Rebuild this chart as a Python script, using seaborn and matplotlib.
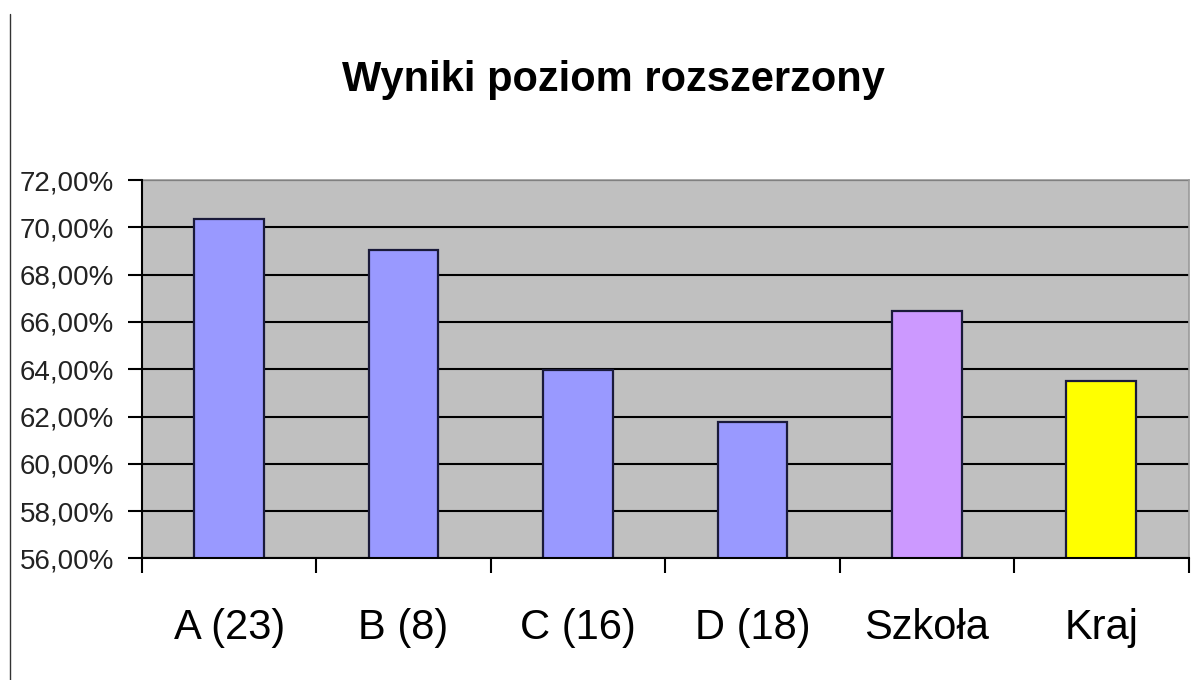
import matplotlib
matplotlib.use("Agg")
import matplotlib.pyplot as plt
import seaborn as sns
import pandas as pd
from matplotlib.lines import Line2D
from matplotlib.ticker import FuncFormatter, FixedLocator

# Data
categories = ["A (23)", "B (8)", "C (16)", "D (18)", "Szkoła", "Kraj"]
values = [70.35, 69.05, 63.95, 61.75, 66.48, 63.5]
bar_colors = ["#9999ff", "#9999ff", "#9999ff", "#9999ff", "#cc99ff", "#ffff00"]
y_ticks = [56, 58, 60, 62, 64, 66, 68, 70, 72]

df = pd.DataFrame({"kategoria": categories, "wynik": values})

sns.set_style("white", {"ytick.left": True, "xtick.bottom": True})
plt.rcParams["font.family"] = ["Liberation Sans", "DejaVu Sans"]
plt.rcParams["text.color"] = "black"

fig = plt.figure(figsize=(12.03, 6.8), dpi=100)
ax = fig.add_axes([0.118, 0.179, 0.870, 0.556])
ax.set_facecolor("#c0c0c0")

sns.barplot(data=df, x="kategoria", y="wynik", hue="kategoria",
            palette=bar_colors, saturation=1, legend=False, width=0.4,
            edgecolor="#1a1a3a", linewidth=1.6, ax=ax)
# bars on top of the gridlines
for p in ax.patches:
    p.set_zorder(3)

ax.set_ylim(y_ticks[0], y_ticks[-1])
ax.set_xlim(-0.5, len(categories) - 0.5)
ax.set_yticks(y_ticks)
ax.yaxis.set_major_formatter(FuncFormatter(lambda v, p: f"{v:.2f}%".replace(".", ",")))
ax.yaxis.grid(True, color="black", linewidth=1.5)

# category boundaries get tick marks, labels sit in the middle
ax.xaxis.set_minor_locator(FixedLocator([i - 0.5 for i in range(len(categories) + 1)]))
ax.tick_params(axis="x", which="major", bottom=True, length=0, pad=36,
               labelsize=30, labelcolor="black")
ax.tick_params(axis="x", which="minor", bottom=True, length=11, width=1.5,
               color="black", direction="out")
ax.tick_params(axis="y", which="major", left=True, length=0, pad=20,
               labelsize=20, labelcolor="#222222")

# short marks left of the y axis at each tick value
ax.hlines(y_ticks, -0.013, 0, transform=ax.get_yaxis_transform(),
          color="black", linewidth=1.5, clip_on=False)

ax.set_xlabel("")
ax.set_ylabel("")

for side in ["left", "bottom"]:
    ax.spines[side].set_color("black")
    ax.spines[side].set_linewidth(1.5)
    ax.spines[side].set_zorder(4)
for side in ["top", "right"]:
    ax.spines[side].set_color("#9a9a9a")
    ax.spines[side].set_linewidth(1.2)

fig.text(0.51, 0.882, "Wyniki poziom rozszerzony", ha="center", va="center",
         fontsize=30, fontweight="bold", color="black")

# thin border on the left of the chart area
fig.add_artist(Line2D([0.008, 0.008], [0.0, 0.98], color="#333333", linewidth=1.0))

fig.savefig("out.png", dpi=100)
